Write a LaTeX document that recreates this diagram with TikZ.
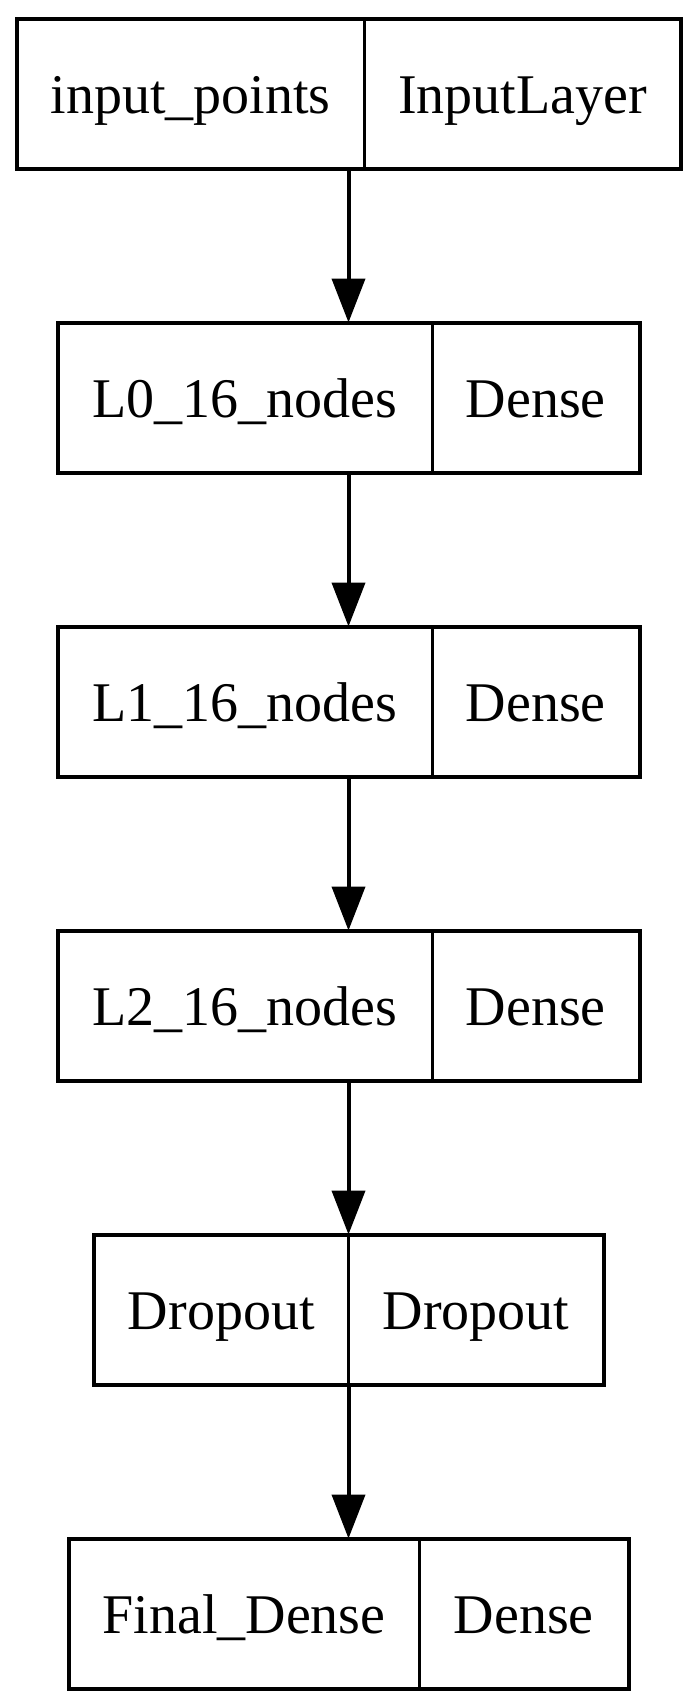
\documentclass[tikz,border=0pt]{standalone}
\usepackage{fontspec}
\setmainfont{Liberation Serif}
\usetikzlibrary{arrows.meta}
\begin{document}
\begin{tikzpicture}[x=1pt,y=-1pt,
  rec/.style={draw, line width=4pt, minimum height=150pt, inner sep=0pt, outer sep=0pt},
  lbl/.style={font=\fontsize{56}{60}\selectfont, inner sep=0pt, anchor=base},
  divline/.style={line width=3pt},
  conn/.style={line width=4pt, -{Triangle[length=44pt,width=33pt]}}]
\useasboundingbox[fill=white] (0,0) rectangle (698,1708);
% boxes
\node[rec, minimum width=664pt]   (b1) at (348.5,93.5) {};
\node[rec, minimum width=581.5pt] (b2) at (348.75,397.5) {};
\node[rec, minimum width=581.5pt] (b3) at (348.75,701.5) {};
\node[rec, minimum width=581.5pt] (b4) at (348.75,1005.5) {};
\node[rec, minimum width=509.5pt] (b5) at (348.75,1309.5) {};
\node[rec, minimum width=559.5pt] (b6) at (348.75,1613.5) {};
% dividers
\coordinate (d1) at (364.5,0);
\coordinate (d2) at (432,0);
\coordinate (d5) at (348.5,0);
\coordinate (d6) at (419,0);
\draw[divline] (b1.north -| d1) -- (b1.south -| d1);
\draw[divline] (b2.north -| d2) -- (b2.south -| d2);
\draw[divline] (b3.north -| d2) -- (b3.south -| d2);
\draw[divline] (b4.north -| d2) -- (b4.south -| d2);
\draw[divline] (b5.north -| d5) -- (b5.south -| d5);
\draw[divline] (b6.north -| d6) -- (b6.south -| d6);
% labels
\node[lbl] (t1a) at (190.5,113.5) {input\_points};
\node[lbl] (t1b) at (522.5,113.5) {InputLayer};
\node[lbl] (t2a) at (245,417.5) {L0\_16\_nodes};
\node[lbl] (t2b) at (535.75,417.5) {Dense};
\node[lbl] (t3a) at (245,721.5) {L1\_16\_nodes};
\node[lbl] (t3b) at (535.75,721.5) {Dense};
\node[lbl] (t4a) at (245,1025.5) {L2\_16\_nodes};
\node[lbl] (t4b) at (535.75,1025.5) {Dense};
\node[lbl] (t5a) at (221.25,1329.5) {Dropout};
\node[lbl] (t5b) at (476,1329.5) {Dropout};
\node[lbl] (t6a) at (244,1633.5) {Final\_Dense};
\node[lbl] (t6b) at (523.75,1633.5) {Dense};
% connectors
\draw[conn] (b1.south -| d5) -- (b2.north -| d5);
\draw[conn] (b2.south -| d5) -- (b3.north -| d5);
\draw[conn] (b3.south -| d5) -- (b4.north -| d5);
\draw[conn] (b4.south -| d5) -- (b5.north -| d5);
\draw[conn] (b5.south -| d5) -- (b6.north -| d5);
\end{tikzpicture}
\end{document}
